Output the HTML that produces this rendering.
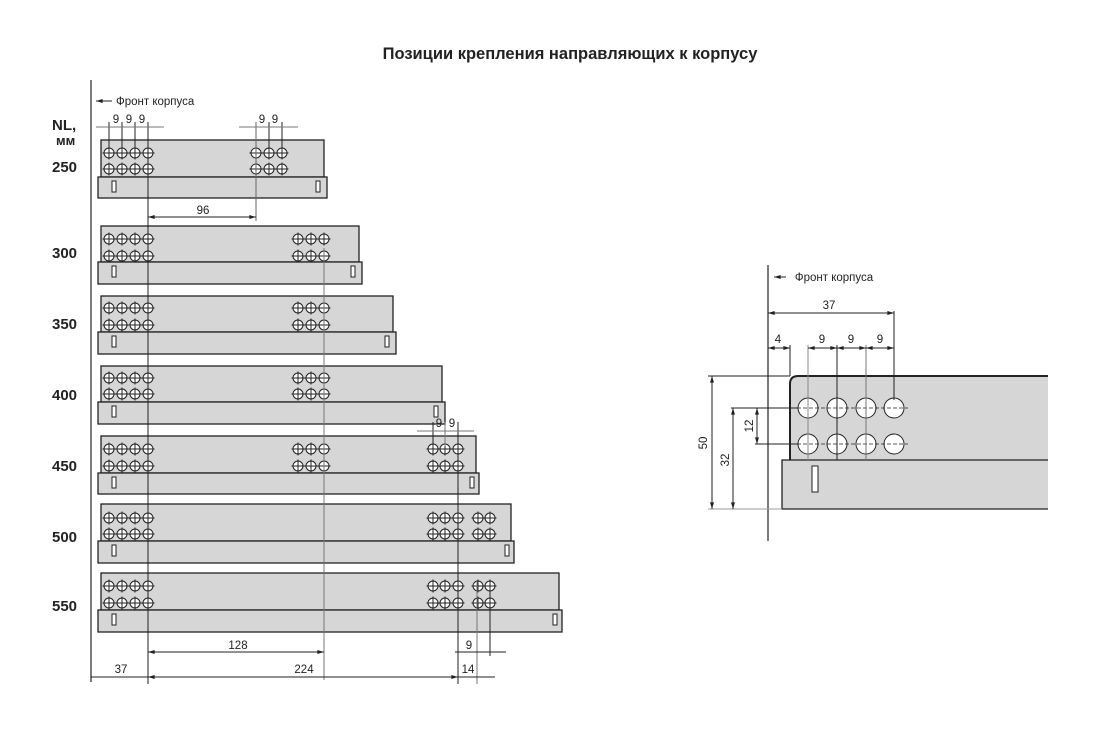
<!DOCTYPE html>
<html><head><meta charset="utf-8"><style>
html,body{margin:0;padding:0;background:#fff;}
svg{display:block;font-family:"Liberation Sans",sans-serif;}
</style></head><body>
<svg width="1100" height="730" viewBox="0 0 1100 730" xmlns="http://www.w3.org/2000/svg">
<defs>
<g id="h"><circle r="5" fill="#fff" stroke="#222" stroke-width="1"/><line x1="-6.5" y1="0" x2="6.5" y2="0" stroke="#222" stroke-width="1"/><line x1="0" y1="-6.5" x2="0" y2="6.5" stroke="#222" stroke-width="1"/></g>
<marker id="a" viewBox="0 0 10 6" refX="10" refY="3" markerWidth="8" markerHeight="4" orient="auto-start-reverse"><path d="M0,0L10,3L0,6z" fill="#222"/></marker>
</defs>
<text x="570" y="59" text-anchor="middle" font-size="16.5" font-weight="bold" fill="#222">Позиции крепления направляющих к корпусу</text>

<!-- LEFT DIAGRAM -->
<g font-size="15" font-weight="bold" fill="#222">
<text x="52" y="130">NL,</text><text x="56" y="145" font-size="13">мм</text>
<text x="52" y="172">250</text><text x="52" y="258">300</text><text x="52" y="329">350</text><text x="52" y="400">400</text><text x="52" y="471">450</text><text x="52" y="542">500</text><text x="52" y="611">550</text>
</g>
<line x1="91" y1="80" x2="91" y2="682" stroke="#222" stroke-width="1.2"/>
<line x1="96" y1="101" x2="112" y2="101" stroke="#222" marker-start="url(#a)"/>
<text x="116" y="105" font-size="11.5" fill="#222">Фронт корпуса</text>

<g fill="#d6d6d6" stroke="#222" stroke-width="1.3">
<rect x="101" y="140" width="223" height="37"/><rect x="98" y="177" width="229" height="21"/>
<rect x="101" y="226" width="258" height="36"/><rect x="98" y="262" width="264" height="22"/>
<rect x="101" y="296" width="292" height="36"/><rect x="98" y="332" width="298" height="22"/>
<rect x="101" y="366" width="341" height="36"/><rect x="98" y="402" width="347" height="22"/>
<rect x="101" y="436" width="375" height="37"/><rect x="98" y="473" width="381" height="21"/>
<rect x="101" y="504" width="410" height="37"/><rect x="98" y="541" width="416" height="22"/>
<rect x="101" y="573" width="458" height="37"/><rect x="98" y="610" width="464" height="22"/>
</g>
<g fill="#fff" stroke="#222" stroke-width="1">
<rect x="112" y="181" width="4" height="11"/><rect x="316" y="181" width="4" height="11"/>
<rect x="112" y="266" width="4" height="11"/><rect x="351" y="266" width="4" height="11"/>
<rect x="112" y="336" width="4" height="11"/><rect x="385" y="336" width="4" height="11"/>
<rect x="112" y="406" width="4" height="11"/><rect x="434" y="406" width="4" height="11"/>
<rect x="112" y="477" width="4" height="11"/><rect x="470" y="477" width="4" height="11"/>
<rect x="112" y="545" width="4" height="11"/><rect x="505" y="545" width="4" height="11"/>
<rect x="112" y="614" width="4" height="11"/><rect x="553" y="614" width="4" height="11"/>
</g>

<g>
<use href="#h" x="109" y="153"/><use href="#h" x="122" y="153"/><use href="#h" x="135" y="153"/><use href="#h" x="148" y="153"/>
<use href="#h" x="109" y="169"/><use href="#h" x="122" y="169"/><use href="#h" x="135" y="169"/><use href="#h" x="148" y="169"/>
<use href="#h" x="256" y="153"/><use href="#h" x="269" y="153"/><use href="#h" x="282" y="153"/>
<use href="#h" x="256" y="169"/><use href="#h" x="269" y="169"/><use href="#h" x="282" y="169"/>
<use href="#h" x="109" y="239"/><use href="#h" x="122" y="239"/><use href="#h" x="135" y="239"/><use href="#h" x="148" y="239"/>
<use href="#h" x="109" y="256"/><use href="#h" x="122" y="256"/><use href="#h" x="135" y="256"/><use href="#h" x="148" y="256"/>
<use href="#h" x="298" y="239"/><use href="#h" x="311" y="239"/><use href="#h" x="324" y="239"/>
<use href="#h" x="298" y="256"/><use href="#h" x="311" y="256"/><use href="#h" x="324" y="256"/>
<use href="#h" x="109" y="308"/><use href="#h" x="122" y="308"/><use href="#h" x="135" y="308"/><use href="#h" x="148" y="308"/>
<use href="#h" x="109" y="325"/><use href="#h" x="122" y="325"/><use href="#h" x="135" y="325"/><use href="#h" x="148" y="325"/>
<use href="#h" x="298" y="308"/><use href="#h" x="311" y="308"/><use href="#h" x="324" y="308"/>
<use href="#h" x="298" y="325"/><use href="#h" x="311" y="325"/><use href="#h" x="324" y="325"/>
<use href="#h" x="109" y="378"/><use href="#h" x="122" y="378"/><use href="#h" x="135" y="378"/><use href="#h" x="148" y="378"/>
<use href="#h" x="109" y="394"/><use href="#h" x="122" y="394"/><use href="#h" x="135" y="394"/><use href="#h" x="148" y="394"/>
<use href="#h" x="298" y="378"/><use href="#h" x="311" y="378"/><use href="#h" x="324" y="378"/>
<use href="#h" x="298" y="394"/><use href="#h" x="311" y="394"/><use href="#h" x="324" y="394"/>
<use href="#h" x="109" y="449"/><use href="#h" x="122" y="449"/><use href="#h" x="135" y="449"/><use href="#h" x="148" y="449"/>
<use href="#h" x="109" y="466"/><use href="#h" x="122" y="466"/><use href="#h" x="135" y="466"/><use href="#h" x="148" y="466"/>
<use href="#h" x="298" y="449"/><use href="#h" x="311" y="449"/><use href="#h" x="324" y="449"/>
<use href="#h" x="298" y="466"/><use href="#h" x="311" y="466"/><use href="#h" x="324" y="466"/>
<use href="#h" x="433" y="449"/><use href="#h" x="445" y="449"/><use href="#h" x="458" y="449"/>
<use href="#h" x="433" y="466"/><use href="#h" x="445" y="466"/><use href="#h" x="458" y="466"/>
<use href="#h" x="109" y="518"/><use href="#h" x="122" y="518"/><use href="#h" x="135" y="518"/><use href="#h" x="148" y="518"/>
<use href="#h" x="109" y="534"/><use href="#h" x="122" y="534"/><use href="#h" x="135" y="534"/><use href="#h" x="148" y="534"/>
<use href="#h" x="433" y="518"/><use href="#h" x="445" y="518"/><use href="#h" x="458" y="518"/><use href="#h" x="478" y="518"/><use href="#h" x="490" y="518"/>
<use href="#h" x="433" y="534"/><use href="#h" x="445" y="534"/><use href="#h" x="458" y="534"/><use href="#h" x="478" y="534"/><use href="#h" x="490" y="534"/>
<use href="#h" x="109" y="586"/><use href="#h" x="122" y="586"/><use href="#h" x="135" y="586"/><use href="#h" x="148" y="586"/>
<use href="#h" x="109" y="603"/><use href="#h" x="122" y="603"/><use href="#h" x="135" y="603"/><use href="#h" x="148" y="603"/>
<use href="#h" x="433" y="586"/><use href="#h" x="445" y="586"/><use href="#h" x="458" y="586"/><use href="#h" x="478" y="586"/><use href="#h" x="490" y="586"/>
<use href="#h" x="433" y="603"/><use href="#h" x="445" y="603"/><use href="#h" x="458" y="603"/><use href="#h" x="478" y="603"/><use href="#h" x="490" y="603"/>
</g>

<g stroke="#222" stroke-width="1" fill="none">
<line x1="148" y1="122" x2="148" y2="684"/>
<line x1="324" y1="248" x2="324" y2="680" stroke="#777"/>
<line x1="458" y1="422" x2="458" y2="684"/>
<line x1="477" y1="580" x2="477" y2="684" stroke="#777"/>
<line x1="490" y1="580" x2="490" y2="656"/>
<line x1="109" y1="122" x2="109" y2="150"/><line x1="122" y1="122" x2="122" y2="150"/><line x1="135" y1="122" x2="135" y2="150"/>
<line x1="256" y1="122" x2="256" y2="221" stroke="#666"/><line x1="269" y1="122" x2="269" y2="150"/><line x1="282" y1="122" x2="282" y2="150"/>
<line x1="433" y1="422" x2="433" y2="446"/><line x1="445" y1="422" x2="445" y2="446" stroke="#777"/>
<line x1="96" y1="127" x2="164" y2="127" stroke="#777"/>
<line x1="239" y1="127" x2="298" y2="127" stroke="#777"/>
<line x1="417" y1="431" x2="474" y2="431" stroke="#777"/>
<line x1="148" y1="217" x2="256" y2="217" marker-start="url(#a)" marker-end="url(#a)"/>
<line x1="148" y1="652" x2="324" y2="652" marker-start="url(#a)" marker-end="url(#a)"/>
<line x1="148" y1="677" x2="458" y2="677" marker-start="url(#a)" marker-end="url(#a)"/>
<line x1="91" y1="677" x2="148" y2="677"/>
<line x1="458" y1="677" x2="495" y2="677"/>
<line x1="455" y1="652" x2="506" y2="652"/>
</g>
<g font-size="11.5" fill="#222" text-anchor="middle">
<text x="116" y="123">9</text><text x="129" y="123">9</text><text x="142" y="123">9</text>
<text x="262" y="123">9</text><text x="275" y="123">9</text>
<text x="439" y="427">9</text><text x="452" y="427">9</text>
<text x="203" y="214">96</text>
<text x="238" y="649">128</text>
<text x="304" y="673">224</text>
<text x="121" y="673">37</text>
<text x="469" y="649">9</text>
<text x="468" y="673">14</text>
</g>

<path d="M790,509 L790,384 Q790,376 798,376 L1048,376 L1048,460 L790,460 Z" fill="#d6d6d6" stroke="none"/>
<path d="M790,460 L790,384 Q790,376 798,376 L1048,376" fill="none" stroke="#222" stroke-width="2"/>
<rect x="782" y="460" width="266" height="49" fill="#d6d6d6"/>
<path d="M1048,460 L782,460 L782,509 L1048,509" fill="none" stroke="#222" stroke-width="1.3"/>
<rect x="812" y="466" width="6" height="26" fill="#fff" stroke="#222" stroke-width="1"/>
<g fill="#fff" stroke="#222" stroke-width="1">
<circle cx="808" cy="408" r="10"/><circle cx="837" cy="408" r="10"/><circle cx="866" cy="408" r="10"/><circle cx="894" cy="408" r="10"/>
<circle cx="808" cy="444" r="10"/><circle cx="837" cy="444" r="10"/><circle cx="866" cy="444" r="10"/><circle cx="894" cy="444" r="10"/>
</g>
<g stroke="#222" stroke-width="0.8" stroke-dasharray="4,2">
<line x1="797" y1="408" x2="908" y2="408"/><line x1="797" y1="444" x2="908" y2="444"/>
</g>
<g stroke="#222" stroke-width="1" fill="none">
<line x1="768" y1="265" x2="768" y2="541" stroke-width="1.2"/>
<line x1="808" y1="345" x2="808" y2="460" stroke="#888"/>
<line x1="837" y1="345" x2="837" y2="460"/>
<line x1="866" y1="345" x2="866" y2="460" stroke="#777"/>
<line x1="894" y1="311" x2="894" y2="400"/>
<line x1="790" y1="345" x2="790" y2="376"/>
<line x1="768" y1="313" x2="894" y2="313" marker-start="url(#a)" marker-end="url(#a)"/>
<line x1="768" y1="348" x2="790" y2="348" marker-start="url(#a)" marker-end="url(#a)"/>
<line x1="808" y1="348" x2="837" y2="348" marker-start="url(#a)" marker-end="url(#a)"/>
<line x1="837" y1="348" x2="866" y2="348" marker-start="url(#a)" marker-end="url(#a)"/>
<line x1="866" y1="348" x2="894" y2="348" marker-start="url(#a)" marker-end="url(#a)"/>
<line x1="708" y1="376" x2="790" y2="376"/>
<line x1="731" y1="408" x2="798" y2="408"/>
<line x1="755" y1="444" x2="798" y2="444"/>
<line x1="708" y1="509" x2="782" y2="509" stroke="#999"/>
<line x1="712" y1="376" x2="712" y2="509" marker-start="url(#a)" marker-end="url(#a)"/>
<line x1="733" y1="408" x2="733" y2="509" marker-start="url(#a)" marker-end="url(#a)"/>
<line x1="757" y1="408" x2="757" y2="444" marker-start="url(#a)" marker-end="url(#a)"/>
<line x1="774" y1="277" x2="786" y2="277" marker-start="url(#a)"/>
</g>
<g font-size="11.5" fill="#222" text-anchor="middle">
<text x="834" y="281">Фронт корпуса</text>
<text x="829" y="309">37</text>
<text x="778" y="343">4</text><text x="822" y="343">9</text><text x="851" y="343">9</text><text x="880" y="343">9</text>
<text transform="translate(707,443) rotate(-90)">50</text>
<text transform="translate(729,460) rotate(-90)">32</text>
<text transform="translate(753,426) rotate(-90)">12</text>
</g>
</svg>
</body></html>
